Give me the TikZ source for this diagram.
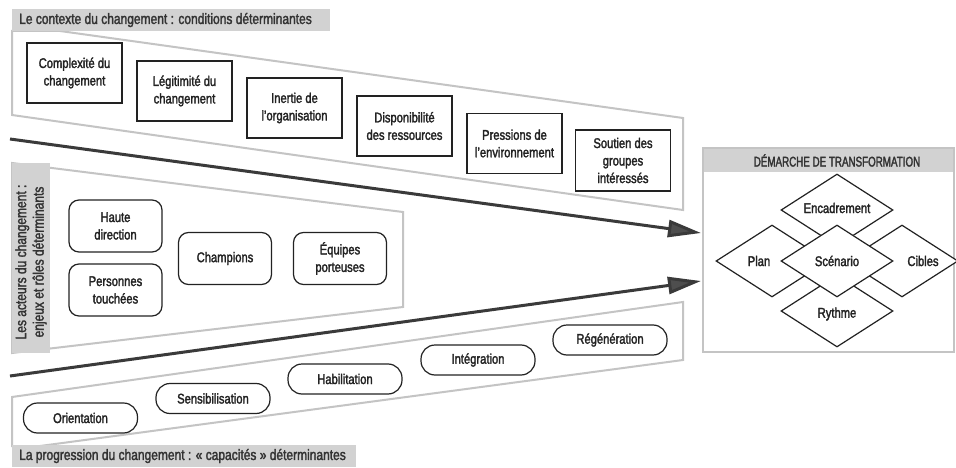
\documentclass[tikz,border=0pt]{standalone}
\usepackage{fontspec}
\setmainfont[FakeStretch=0.8,FakeBold=2]{Liberation Sans}
\newfontfamily\hdrfont[FakeStretch=0.7,FakeBold=2]{Liberation Sans}
\newfontfamily\lblfont[FakeStretch=0.8,FakeBold=2]{Liberation Sans}
\usetikzlibrary{shapes.geometric,arrows.meta}
\definecolor{bandc}{HTML}{C4C4C4}
\definecolor{lblfill}{HTML}{D2D2D2}
\definecolor{ink}{HTML}{222222}
\definecolor{lblink}{HTML}{333333}
\definecolor{arrc}{HTML}{3A3A3A}
\tikzset{
  band/.style={draw=bandc, line width=2pt, fill=white, line join=miter},
  lbl/.style={fill=lblfill, draw=none},
  lbltext/.style={font=\lblfont\fontsize{15}{17.5}\selectfont, text=lblink, inner sep=0pt},
  boxtext/.style={text=ink, font=\fontsize{14}{17.5}\selectfont},
  sqbox/.style={boxtext, draw=ink, line width=1.2pt, fill=white, minimum width=95pt, minimum height=60pt, inner sep=0pt, align=center},
  rbox/.style={boxtext, draw=ink, line width=1.2pt, fill=white, rounded corners=10pt, minimum width=93pt, minimum height=52pt, inner sep=0pt, align=center},
  pill/.style={boxtext, draw=ink, line width=1.2pt, fill=white, rounded corners=14pt, minimum width=114pt, minimum height=30pt, inner sep=0pt, align=center},
  dia/.style={diamond, aspect=1.55, draw=ink, line width=1.2pt, fill=white, minimum width=112pt, minimum height=72pt, inner sep=0pt},
  dialbl/.style={boxtext, inner sep=0pt},
  bigarrow/.style={draw=arrc, line width=3pt, -{Triangle[length=33pt,width=17pt,fill=arrc!90]}}
}
\begin{document}
\begin{tikzpicture}[x=1pt,y=-1pt]
\useasboundingbox (0,0) rectangle (956,468);
\fill[white] (0,0) rectangle (956,468);

% ---- top band: context
\draw[band] (12,31) -- (12,115) -- (683,210) -- (683,118) -- (60,31) -- cycle;
\path[lbl] (12,9) rectangle (330,31);
\node[lbltext, anchor=west] (ctxlbl) at (19,20) {Le contexte du changement : conditions déterminantes};

\node[sqbox] (b1) at (74.5,73) {Complexité du\\changement};
\node[sqbox] (b2) at (184.5,91) {Légitimité du\\changement};
\node[sqbox] (b3) at (294.5,108) {Inertie de\\l’organisation};
\node[sqbox] (b4) at (404.5,126) {Disponibilité\\des ressources};
\node[sqbox] (b5) at (514.5,143.5) {Pressions de\\l’environnement};
\node[sqbox, minimum height=61pt] (b6) at (623,160.5) {Soutien des\\groupes\\intéressés};

% ---- middle band: actors
\draw[band] (12,163) -- (403,212) -- (403,307) -- (12,353) -- cycle;
\path[lbl] (12,163) rectangle (50,353);
\node[lbltext, rotate=90, align=center] (actlbl) at (31,262) {Les acteurs du changement :\\enjeux et rôles déterminants};

\node[rbox] (m1) at (115.5,226) {Haute\\direction};
\node[rbox] (m2) at (115.5,290) {Personnes\\touchées};
\node[rbox] (m3) at (225,258.5) {Champions};
\node[rbox] (m4) at (340,258.5) {Équipes\\porteuses};

% ---- bottom band: progression
\draw[band] (12,446) -- (12,397) -- (683,302) -- (683,360) -- (40,446) -- cycle;
\path[lbl] (12,445) rectangle (356,467);
\node[lbltext, anchor=west] (prglbl) at (19,456) {La progression du changement : « capacités » déterminantes};

\node[pill] (p1) at (80.5,418) {Orientation};
\node[pill] (p2) at (213,398.5) {Sensibilisation};
\node[pill] (p3) at (345,379) {Habilitation};
\node[pill] (p4) at (478,360) {Intégration};
\node[pill] (p5) at (610,340) {Régénération};

% ---- right box: transformation
\draw[draw=bandc, line width=2pt, fill=white] (703,148) rectangle (954,352);
\path[lbl] (704,149) rectangle (953,172);
\node[font=\hdrfont\fontsize{14}{17}\selectfont, text=lblink, inner sep=0pt] (hdr) at (837,160.5) {DÉMARCHE DE TRANSFORMATION};

\node[dia] (enc) at (837,210) {};
\node[dia] (plan) at (772,261) {};
\node[dia] (cib) at (902,261) {};
\node[dia] (ryt) at (837,311) {};
\node[dia] (scen) at (837,261) {};
\node[dialbl] (enct) at (837,208) {Encadrement};
\node[dialbl] (plant) at (759,261) {Plan};
\node[dialbl] (cibt) at (923,261) {Cibles};
\node[dialbl] (rytt) at (837,314) {Rythme};
\node[dialbl] (scent) at (837,261) {Scénario};

% ---- arrows
\coordinate (a1s) at (10,139);
\coordinate (a1e) at (701,233);
\coordinate (a2s) at (10,376);
\coordinate (a2e) at (701,281);
\draw[bigarrow] (a1s) -- (a1e);
\draw[bigarrow] (a2s) -- (a2e);
\end{tikzpicture}
\end{document}
